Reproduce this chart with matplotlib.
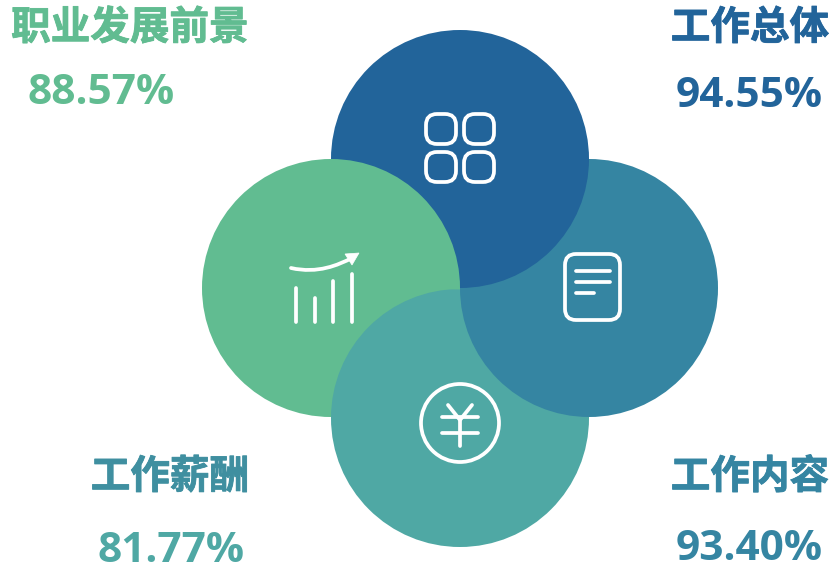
import matplotlib
matplotlib.use('Agg')
import matplotlib.pyplot as plt
import matplotlib.patheffects as pe
from matplotlib.patches import Circle, FancyBboxPatch, Polygon, PathPatch
from matplotlib.path import Path

labels = ['工作总体', '职业发展前景', '工作薪酬', '工作内容']
values = [94.55, 88.57, 81.77, 93.40]
colors = ['#22649a', '#61bc91', '#4fa8a4', '#3585a2']
label_colors = ['#22649a', '#61bc91', '#3f8fa0', '#3585a2']

label_pos = [(750, 28), (130, 28), (170, 477), (750, 477)]
value_pos = [(749, 107), (101, 104.5), (171, 561.5), (749, 559.5)]
centers = [(460, 159), (331, 288), (460, 418), (589, 288)]
R = 129

fig = plt.figure(figsize=(8.32, 5.64), dpi=100)
ax = fig.add_axes([0, 0, 1, 1])
ax.set_xlim(0, 832)
ax.set_ylim(564, 0)
ax.axis('off')

# pinwheel: left, bottom, right, top, then the part of left that lies on top
for z, i in enumerate([1, 2, 3, 0]):
    ax.add_patch(Circle(centers[i], R, fc=colors[i], ec='none', zorder=z + 1))
left_over = Circle(centers[1], R, fc=colors[1], ec='none', zorder=5)
ax.add_patch(left_over)
# clip a bit wider than the top circle so no dark seam is left
left_over.set_clip_path(Circle(centers[0], R + 1.5, transform=ax.transData))

for lab, v, lc, vc, lp, vp in zip(labels, values, label_colors, colors, label_pos, value_pos):
    ax.text(lp[0], lp[1], lab, family='Noto Sans CJK SC', weight='bold', fontsize=28.5,
            color=lc, ha='center', va='center',
            path_effects=[pe.withStroke(linewidth=0.6, foreground=lc)])
    ax.text(vp[0], vp[1], f'{v:.2f}%', family='Open Sans', weight='bold', fontsize=30.5,
            color=vc, ha='center', va='baseline')

W = 'white'
lw = 2.7
# grid icon
for x in [426, 464]:
    for y in [114, 152]:
        ax.add_patch(FancyBboxPatch((x + 10, y + 10), 10, 10, boxstyle='round,pad=10,rounding_size=11',
                                    fc='none', ec=W, lw=lw, zorder=10))
# document icon
ax.add_patch(FancyBboxPatch((574, 263), 37, 48, boxstyle='round,pad=9,rounding_size=11',
                            fc='none', ec=W, lw=lw, zorder=10))
for y, x1 in [(271, 610), (282, 610), (293, 594)]:
    ax.plot([576, x1], [y, y], color=W, lw=lw, solid_capstyle='round', zorder=10)
# bars icon
for x, y0 in [(296, 288), (314.5, 298), (333, 281), (352, 274)]:
    ax.plot([x, x], [y0, 322], color=W, lw=lw, solid_capstyle='round', zorder=10)
trend = Path([(291, 268), (318, 274), (338, 265), (352, 258)],
             [Path.MOVETO, Path.CURVE4, Path.CURVE4, Path.CURVE4])
ax.add_patch(PathPatch(trend, fc='none', ec=W, lw=lw, capstyle='round', zorder=10))
ax.add_patch(Polygon([(345, 254), (359, 253), (352, 265)], fc=W, ec=W, lw=0.5, zorder=10))
# yuan icon
ax.add_patch(Circle((460, 423), 39, fc='none', ec=W, lw=lw, zorder=10))
ax.plot([448, 460, 472], [405, 420, 405], color=W, lw=lw, solid_capstyle='round', zorder=10)
ax.plot([460, 460], [420, 446], color=W, lw=lw, solid_capstyle='round', zorder=10)
for y in [417, 433]:
    ax.plot([442, 478], [y, y], color=W, lw=lw, solid_capstyle='round', zorder=10)

fig.savefig('out.png', dpi=100)
